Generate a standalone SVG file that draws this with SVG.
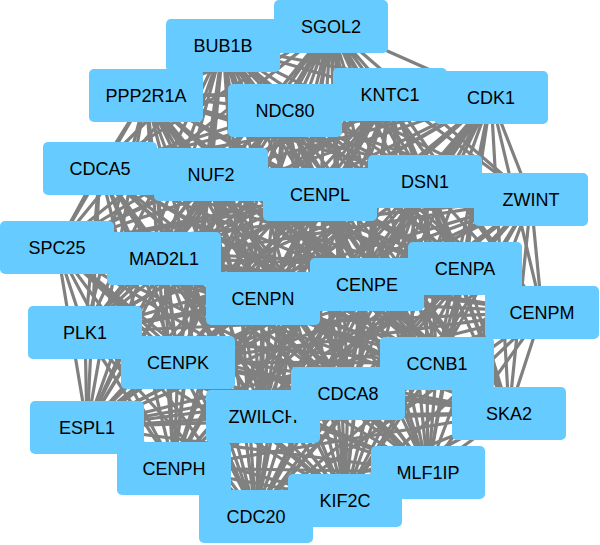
<svg xmlns="http://www.w3.org/2000/svg" width="600" height="545" viewBox="0 0 600 545">
<style>
.e{fill:none;stroke:#808080;stroke-width:3.2;stroke-linejoin:round}
.n rect{fill:#66CCFF;stroke:none}
.n text{font-family:"Liberation Sans",Arial,sans-serif;font-size:18px;fill:#000;text-anchor:middle}
</style>
<rect width="600" height="545" fill="#fff"/>
<g id="edges">
<path class="e" d="M331 26L223 45 331 26 146 95 331 26 285 110 331 26 390 94 331 26 491 97 331 26 100 168 331 26 211 174 331 26 320 194 331 26 425 181 331 26 531 199 331 26 57 247 331 26 164 258 331 26 263 298 331 26 367 284 331 26 465 268 331 26 542 312 331 26 85 332 331 26 178 362 331 26 437 363 331 26 263 416 331 26 348 393 331 26 509 413 331 26 87 427 331 26 174 468 331 26 428 472 331 26 345 500 331 26 256 516"/>
<path class="e" d="M223 45L146 95 223 45 285 110 223 45 390 94 223 45 491 97 223 45 100 168 223 45 211 174 223 45 320 194 223 45 425 181 223 45 531 199 223 45 57 247 223 45 164 258 223 45 263 298 223 45 367 284 223 45 465 268 223 45 542 312 223 45 85 332 223 45 178 362 223 45 437 363 223 45 263 416 223 45 348 393 223 45 509 413 223 45 87 427 223 45 174 468 223 45 428 472 223 45 345 500 223 45 256 516"/>
<path class="e" d="M146 95L285 110 146 95 390 94 146 95 491 97 146 95 100 168 146 95 211 174 146 95 320 194 146 95 425 181 146 95 531 199 146 95 57 247 146 95 164 258 146 95 263 298 146 95 367 284 146 95 465 268 146 95 542 312 146 95 85 332 146 95 178 362 146 95 437 363 146 95 263 416 146 95 348 393 146 95 509 413 146 95 87 427 146 95 174 468 146 95 428 472 146 95 345 500 146 95 256 516"/>
<path class="e" d="M285 110L390 94 285 110 491 97 285 110 100 168 285 110 211 174 285 110 320 194 285 110 425 181 285 110 531 199 285 110 57 247 285 110 164 258 285 110 263 298 285 110 367 284 285 110 465 268 285 110 542 312 285 110 85 332 285 110 178 362 285 110 437 363 285 110 263 416 285 110 348 393 285 110 509 413 285 110 87 427 285 110 174 468 285 110 428 472 285 110 345 500 285 110 256 516"/>
<path class="e" d="M390 94L491 97 390 94 100 168 390 94 211 174 390 94 320 194 390 94 425 181 390 94 531 199 390 94 57 247 390 94 164 258 390 94 263 298 390 94 367 284 390 94 465 268 390 94 542 312 390 94 85 332 390 94 178 362 390 94 437 363 390 94 263 416 390 94 348 393 390 94 509 413 390 94 87 427 390 94 174 468 390 94 428 472 390 94 345 500 390 94 256 516"/>
<path class="e" d="M491 97L100 168 491 97 211 174 491 97 320 194 491 97 425 181 491 97 531 199 491 97 57 247 491 97 164 258 491 97 263 298 491 97 367 284 491 97 465 268 491 97 542 312 491 97 85 332 491 97 178 362 491 97 437 363 491 97 263 416 491 97 348 393 491 97 509 413 491 97 87 427 491 97 174 468 491 97 428 472 491 97 345 500 491 97 256 516"/>
<path class="e" d="M100 168L211 174 100 168 320 194 100 168 425 181 100 168 531 199 100 168 57 247 100 168 164 258 100 168 263 298 100 168 367 284 100 168 465 268 100 168 542 312 100 168 85 332 100 168 178 362 100 168 437 363 100 168 263 416 100 168 348 393 100 168 509 413 100 168 87 427 100 168 174 468 100 168 428 472 100 168 345 500 100 168 256 516"/>
<path class="e" d="M211 174L320 194 211 174 425 181 211 174 531 199 211 174 57 247 211 174 164 258 211 174 263 298 211 174 367 284 211 174 465 268 211 174 542 312 211 174 85 332 211 174 178 362 211 174 437 363 211 174 263 416 211 174 348 393 211 174 509 413 211 174 87 427 211 174 174 468 211 174 428 472 211 174 345 500 211 174 256 516"/>
<path class="e" d="M320 194L425 181 320 194 531 199 320 194 57 247 320 194 164 258 320 194 263 298 320 194 367 284 320 194 465 268 320 194 542 312 320 194 85 332 320 194 178 362 320 194 437 363 320 194 263 416 320 194 348 393 320 194 509 413 320 194 87 427 320 194 174 468 320 194 428 472 320 194 345 500 320 194 256 516"/>
<path class="e" d="M425 181L531 199 425 181 57 247 425 181 164 258 425 181 263 298 425 181 367 284 425 181 465 268 425 181 542 312 425 181 85 332 425 181 178 362 425 181 437 363 425 181 263 416 425 181 348 393 425 181 509 413 425 181 87 427 425 181 174 468 425 181 428 472 425 181 345 500 425 181 256 516"/>
<path class="e" d="M531 199L57 247 531 199 164 258 531 199 263 298 531 199 367 284 531 199 465 268 531 199 542 312 531 199 85 332 531 199 178 362 531 199 437 363 531 199 263 416 531 199 348 393 531 199 509 413 531 199 87 427 531 199 174 468 531 199 428 472 531 199 345 500 531 199 256 516"/>
<path class="e" d="M57 247L164 258 57 247 263 298 57 247 367 284 57 247 465 268 57 247 542 312 57 247 85 332 57 247 178 362 57 247 437 363 57 247 263 416 57 247 348 393 57 247 509 413 57 247 87 427 57 247 174 468 57 247 428 472 57 247 345 500 57 247 256 516"/>
<path class="e" d="M164 258L263 298 164 258 367 284 164 258 465 268 164 258 542 312 164 258 85 332 164 258 178 362 164 258 437 363 164 258 263 416 164 258 348 393 164 258 509 413 164 258 87 427 164 258 174 468 164 258 428 472 164 258 345 500 164 258 256 516"/>
<path class="e" d="M263 298L367 284 263 298 465 268 263 298 542 312 263 298 85 332 263 298 178 362 263 298 437 363 263 298 263 416 263 298 348 393 263 298 509 413 263 298 87 427 263 298 174 468 263 298 428 472 263 298 345 500 263 298 256 516"/>
<path class="e" d="M367 284L465 268 367 284 542 312 367 284 85 332 367 284 178 362 367 284 437 363 367 284 263 416 367 284 348 393 367 284 509 413 367 284 87 427 367 284 174 468 367 284 428 472 367 284 345 500 367 284 256 516"/>
<path class="e" d="M465 268L542 312 465 268 85 332 465 268 178 362 465 268 437 363 465 268 263 416 465 268 348 393 465 268 509 413 465 268 87 427 465 268 174 468 465 268 428 472 465 268 345 500 465 268 256 516"/>
<path class="e" d="M542 312L85 332 542 312 178 362 542 312 437 363 542 312 263 416 542 312 348 393 542 312 509 413 542 312 87 427 542 312 174 468 542 312 428 472 542 312 345 500 542 312 256 516"/>
<path class="e" d="M85 332L178 362 85 332 437 363 85 332 263 416 85 332 348 393 85 332 509 413 85 332 87 427 85 332 174 468 85 332 428 472 85 332 345 500 85 332 256 516"/>
<path class="e" d="M178 362L437 363 178 362 263 416 178 362 348 393 178 362 509 413 178 362 87 427 178 362 174 468 178 362 428 472 178 362 345 500 178 362 256 516"/>
<path class="e" d="M437 363L263 416 437 363 348 393 437 363 509 413 437 363 87 427 437 363 174 468 437 363 428 472 437 363 345 500 437 363 256 516"/>
<path class="e" d="M263 416L348 393 263 416 509 413 263 416 87 427 263 416 174 468 263 416 428 472 263 416 345 500 263 416 256 516"/>
<path class="e" d="M348 393L509 413 348 393 87 427 348 393 174 468 348 393 428 472 348 393 345 500 348 393 256 516"/>
<path class="e" d="M509 413L87 427 509 413 174 468 509 413 428 472 509 413 345 500 509 413 256 516"/>
<path class="e" d="M87 427L174 468 87 427 428 472 87 427 345 500 87 427 256 516"/>
<path class="e" d="M174 468L428 472 174 468 345 500 174 468 256 516"/>
<path class="e" d="M428 472L345 500 428 472 256 516"/>
<path class="e" d="M345 500L256 516"/>
</g>
<g id="SGOL2" class="n" transform="translate(274,0)"><rect width="114" height="53" rx="5"/><text x="57" y="33">SGOL2</text></g>
<g id="BUB1B" class="n" transform="translate(166,19)"><rect width="114" height="53" rx="5"/><text x="57" y="33">BUB1B</text></g>
<g id="PPP2R1A" class="n" transform="translate(89,69)"><rect width="114" height="53" rx="5"/><text x="57" y="33">PPP2R1A</text></g>
<g id="NDC80" class="n" transform="translate(228,84)"><rect width="114" height="53" rx="5"/><text x="57" y="33">NDC80</text></g>
<g id="KNTC1" class="n" transform="translate(333,68)"><rect width="114" height="53" rx="5"/><text x="57" y="33">KNTC1</text></g>
<g id="CDK1" class="n" transform="translate(434,71)"><rect width="114" height="53" rx="5"/><text x="57" y="33">CDK1</text></g>
<g id="CDCA5" class="n" transform="translate(43,142)"><rect width="114" height="53" rx="5"/><text x="57" y="33">CDCA5</text></g>
<g id="NUF2" class="n" transform="translate(154,148)"><rect width="114" height="53" rx="5"/><text x="57" y="33">NUF2</text></g>
<g id="CENPL" class="n" transform="translate(263,168)"><rect width="114" height="53" rx="5"/><text x="57" y="33">CENPL</text></g>
<g id="DSN1" class="n" transform="translate(368,155)"><rect width="114" height="53" rx="5"/><text x="57" y="33">DSN1</text></g>
<g id="ZWINT" class="n" transform="translate(474,173)"><rect width="114" height="53" rx="5"/><text x="57" y="33">ZWINT</text></g>
<g id="SPC25" class="n" transform="translate(0,221)"><rect width="114" height="53" rx="5"/><text x="57" y="33">SPC25</text></g>
<g id="MAD2L1" class="n" transform="translate(107,232)"><rect width="114" height="53" rx="5"/><text x="57" y="33">MAD2L1</text></g>
<g id="CENPN" class="n" transform="translate(206,272)"><rect width="114" height="53" rx="5"/><text x="57" y="33">CENPN</text></g>
<g id="CENPA" class="n" transform="translate(408,242)"><rect width="114" height="53" rx="5"/><text x="57" y="33">CENPA</text></g>
<g id="CENPE" class="n" transform="translate(310,258)"><rect width="114" height="53" rx="5"/><text x="57" y="33">CENPE</text></g>
<g id="CENPM" class="n" transform="translate(485,286)"><rect width="114" height="53" rx="5"/><text x="57" y="33">CENPM</text></g>
<g id="PLK1" class="n" transform="translate(28,306)"><rect width="114" height="53" rx="5"/><text x="57" y="33">PLK1</text></g>
<g id="CENPK" class="n" transform="translate(121,336)"><rect width="114" height="53" rx="5"/><text x="57" y="33">CENPK</text></g>
<g id="CCNB1" class="n" transform="translate(380,337)"><rect width="114" height="53" rx="5"/><text x="57" y="33">CCNB1</text></g>
<g id="ZWILCH" class="n" transform="translate(206,390)"><rect width="114" height="53" rx="5"/><text x="57" y="33">ZWILCH</text></g>
<g id="CDCA8" class="n" transform="translate(291,367)"><rect width="114" height="53" rx="5"/><text x="57" y="33">CDCA8</text></g>
<g id="SKA2" class="n" transform="translate(452,387)"><rect width="114" height="53" rx="5"/><text x="57" y="33">SKA2</text></g>
<g id="ESPL1" class="n" transform="translate(30,401)"><rect width="114" height="53" rx="5"/><text x="57" y="33">ESPL1</text></g>
<g id="CENPH" class="n" transform="translate(117,442)"><rect width="114" height="53" rx="5"/><text x="57" y="33">CENPH</text></g>
<g id="MLF1IP" class="n" transform="translate(371,446)"><rect width="114" height="53" rx="5"/><text x="57" y="33">MLF1IP</text></g>
<g id="KIF2C" class="n" transform="translate(288,474)"><rect width="114" height="53" rx="5"/><text x="57" y="33">KIF2C</text></g>
<g id="CDC20" class="n" transform="translate(199,490)"><rect width="114" height="53" rx="5"/><text x="57" y="33">CDC20</text></g>
</svg>
